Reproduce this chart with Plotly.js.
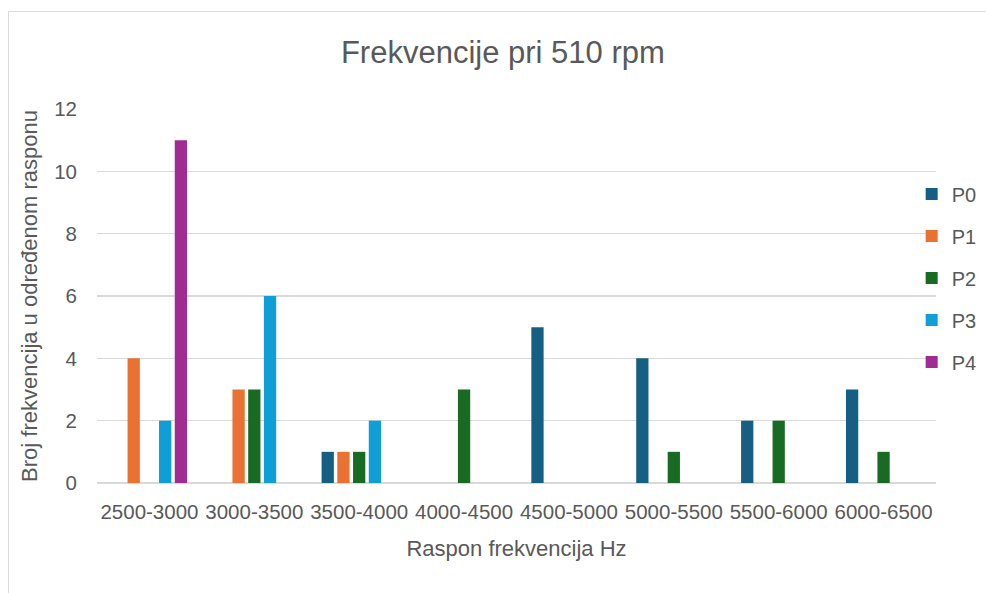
<!DOCTYPE html>
<html>
<head>
<meta charset="utf-8">
<script src="https://cdn.plot.ly/plotly-3.0.1.min.js"></script>
<style>
  html, body { margin: 0; padding: 0; background: #ffffff; overflow: hidden; }
  #frame { position: absolute; left: 8px; top: 11px; width: 1000px; height: 600px;
           border-left: 1px solid #d9d9d9; border-top: 1px solid #d9d9d9; pointer-events: none; }
  #chart { position: absolute; left: 0; top: 0; width: 986px; height: 593px; }
</style>
</head>
<body>
<div id="chart"></div>
<div id="frame"></div>
<script>
const categories = ["2500-3000", "3000-3500", "3500-4000", "4000-4500", "4500-5000", "5000-5500", "5500-6000", "6000-6500"];
const seriesNames = ["P0", "P1", "P2", "P3", "P4"];
const P0 = [0, 0, 1, 0, 5, 4, 2, 3];
const P1 = [4, 3, 1, 0, 0, 0, 0, 0];
const P2 = [0, 3, 1, 3, 0, 1, 2, 1];
const P3 = [2, 6, 2, 0, 0, 0, 0, 0];
const P4 = [11, 0, 0, 0, 0, 0, 0, 0];
const seriesValues = [P0, P1, P2, P3, P4];
const colors = ["#156082", "#E97132", "#196B24", "#0F9ED5", "#A02B93"];

const fontFam = "Liberation Sans, Arial, sans-serif";
const textColor = "#595959";

const traces = seriesNames.map((name, i) => ({
  type: "bar",
  name: name,
  x: categories,
  y: seriesValues[i],
  legendgroup: name,
  marker: { color: colors[i], line: { width: 0 } },
  hoverinfo: "x+y+name"
}));

const layout = {
  width: 986,
  height: 593,
  paper_bgcolor: "rgba(0,0,0,0)",
  plot_bgcolor: "#ffffff",
  margin: { l: 97, r: 50, t: 109, b: 110, autoexpand: false },
  font: { family: fontFam, color: textColor, size: 20 },
  title: {
    text: "Frekvencije pri 510 rpm",
    font: { family: fontFam, size: 31, color: textColor },
    x: 0.51, xanchor: "center",
    y: 1 - 52 / 593, yanchor: "middle"
  },
  barmode: "group",
  bargap: 0.25,
  bargroupgap: 0.22,
  xaxis: {
    type: "category",
    showgrid: false,
    showline: false,
    zeroline: false,
    ticks: "",
    ticklabelstandoff: 14,
    tickfont: { family: fontFam, size: 20.5, color: textColor },
    title: { text: "Raspon frekvencija Hz", font: { family: fontFam, size: 22, color: textColor }, standoff: 19 }
  },
  yaxis: {
    range: [0, 12],
    dtick: 2,
    showgrid: true,
    gridcolor: "#d9d9d9",
    gridwidth: 1.5,
    zeroline: true,
    zerolinecolor: "#d9d9d9",
    zerolinewidth: 1.5,
    showline: false,
    ticks: "",
    ticklabelstandoff: 19,
    tickfont: { family: fontFam, size: 20.5, color: textColor },
    title: { text: "Broj frekvencija u određenom rasponu", font: { family: fontFam, size: 22, color: textColor }, standoff: 10 }
  },
  showlegend: true,
  legend: {
    x: 0.971, xanchor: "left",
    y: 0.825, yanchor: "top",
    tracegroupgap: 13,
    traceorder: "grouped",
    font: { family: fontFam, size: 20, color: textColor },
    bgcolor: "rgba(0,0,0,0)"
  }
};

Plotly.newPlot("chart", traces, layout, { displayModeBar: false, staticPlot: true });
</script>
</body>
</html>
